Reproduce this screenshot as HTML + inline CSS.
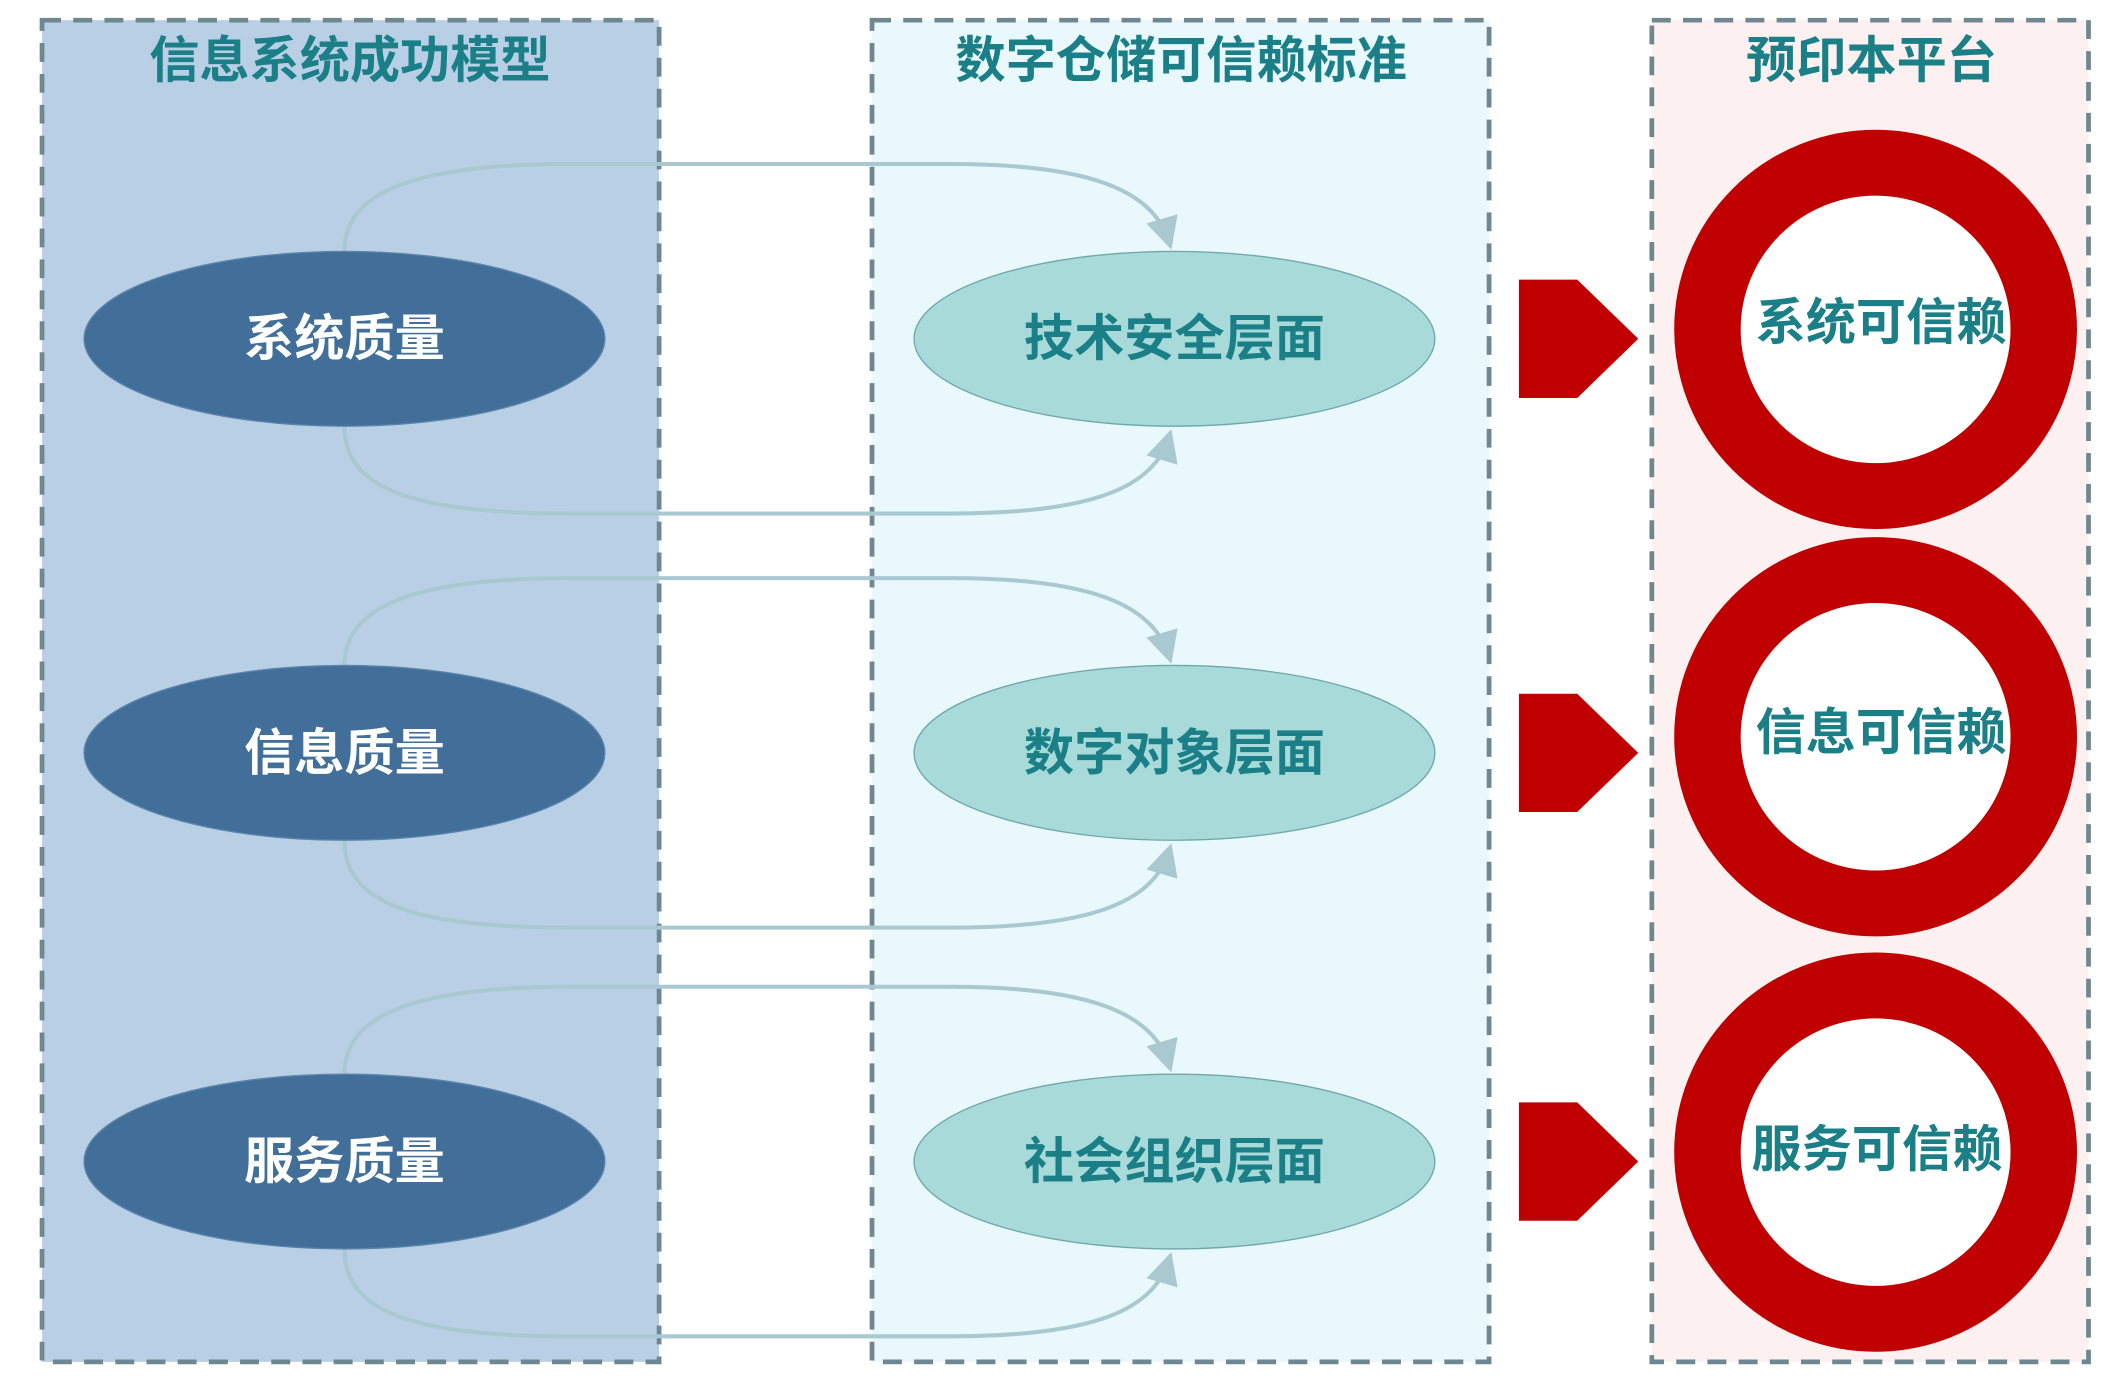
<!DOCTYPE html>
<html><head><meta charset="utf-8"><style>
html,body{margin:0;padding:0;background:#fff;}
svg{display:block;}
text{font-family:"Liberation Sans","Noto Sans CJK SC",sans-serif;font-weight:bold;text-anchor:middle;dominant-baseline:central;}
</style></head><body>
<svg width="2117" height="1378" viewBox="0 0 1561 1025" preserveAspectRatio="none" xmlns="http://www.w3.org/2000/svg">
<defs>
<marker id="ah" markerWidth="8" markerHeight="8" refX="6" refY="4" orient="auto" markerUnits="strokeWidth">
<path d="M0,0 L8,4 L0,8 Z" fill="#a9c8d0"/></marker>
</defs>
<rect x="31" y="15" width="455" height="998" fill="#b9cfe6" stroke="#6f8790" stroke-width="3.5" stroke-dasharray="14,9"/>
<rect x="643" y="15" width="455" height="998" fill="#e8f8fd" stroke="#6f8790" stroke-width="3.5" stroke-dasharray="14,9"/>
<rect x="1218" y="15" width="322" height="998" fill="#fdf0f0" stroke="#6f8790" stroke-width="3.5" stroke-dasharray="14,9"/>
<text x="258" y="45" font-size="37" fill="#1a7f86">信息系统成功模型</text>
<text x="871" y="45" font-size="37" fill="#1a7f86">数字仓储可信赖标准</text>
<text x="1380" y="45" font-size="37" fill="#1a7f86">预印本平台</text>
<g fill="none" stroke="#a9c8d0" stroke-width="3">
<path d="M254,187 C254,145 300,122 420,122 L700,122 C800,122 850,140 862,180" marker-end="url(#ah)"/>
<path d="M254,317 C254,362 300,382 420,382 L700,382 C800,382 850,365 862,325" marker-end="url(#ah)"/>
<path d="M254,495 C254,453 300,430 420,430 L700,430 C800,430 850,448 862,488" marker-end="url(#ah)"/>
<path d="M254,625 C254,670 300,690 420,690 L700,690 C800,690 850,673 862,633" marker-end="url(#ah)"/>
<path d="M254,799 C254,757 300,734 420,734 L700,734 C800,734 850,752 862,792" marker-end="url(#ah)"/>
<path d="M254,929 C254,974 300,994 420,994 L700,994 C800,994 850,977 862,937" marker-end="url(#ah)"/>
</g>
<g fill="#426f99" stroke="#5a84aa" stroke-width="1">
<ellipse cx="254" cy="252" rx="192" ry="65"/>
<ellipse cx="254" cy="560" rx="192" ry="65"/>
<ellipse cx="254" cy="864" rx="192" ry="65"/>
</g>
<g fill="#a8dad9" stroke="#6fa8a8" stroke-width="1">
<ellipse cx="866" cy="252" rx="192" ry="65"/>
<ellipse cx="866" cy="560" rx="192" ry="65"/>
<ellipse cx="866" cy="864" rx="192" ry="65"/>
</g>
<g font-size="37" fill="#fff">
<text x="254" y="252">系统质量</text>
<text x="254" y="560">信息质量</text>
<text x="254" y="864">服务质量</text>
</g>
<g font-size="37" fill="#1a7f86">
<text x="866" y="252">技术安全层面</text>
<text x="866" y="560">数字对象层面</text>
<text x="866" y="864">社会组织层面</text>
</g>
<g fill="#c00000">
<polygon points="1120,208 1163,208 1208,252 1163,296 1120,296"/>
<polygon points="1120,516 1163,516 1208,560 1163,604 1120,604"/>
<polygon points="1120,820 1163,820 1208,864 1163,908 1120,908"/>
</g>
<g fill="#fff" stroke="#c00000" stroke-width="49">
<circle cx="1383" cy="245" r="124"/>
<circle cx="1383" cy="548" r="124"/>
<circle cx="1383" cy="857" r="124"/>
</g>
<g font-size="37" fill="#1a7f86">
<text x="1387" y="240">系统可信赖</text>
<text x="1387" y="545">信息可信赖</text>
<text x="1384" y="855">服务可信赖</text>
</g>
</svg>
</body></html>
